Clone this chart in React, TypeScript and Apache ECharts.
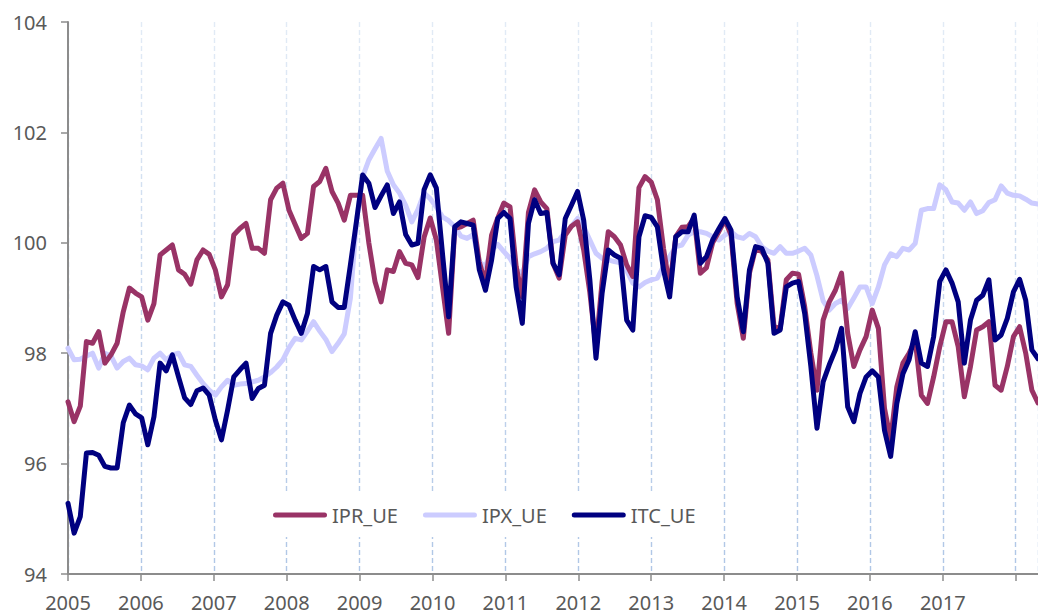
import React, { useEffect, useRef } from "react";
import * as echarts from "echarts";

const SERIES_NAMES = ["IPR_UE", "IPX_UE", "ITC_UE"];
const YEAR_START = 2005;
const Y_TICKS = [94, 96, 98, 100, 102, 104];

const IPR_UE = [
  97.12, 96.76, 97.04, 98.21, 98.18, 98.39, 97.82, 97.97, 98.18, 98.75, 99.18, 99.09,
  99.02, 98.6, 98.9, 99.78, 99.87, 99.96, 99.51, 99.43, 99.25, 99.69, 99.87, 99.79,
  99.51, 99.02, 99.24, 100.14, 100.26, 100.35, 99.9, 99.9, 99.81, 100.78, 100.99, 101.08,
  100.59, 100.33, 100.08, 100.17, 101.02, 101.11, 101.35, 100.93, 100.72, 100.41, 100.86, 100.86,
  100.86, 100.0, 99.3, 98.93, 99.51, 99.48, 99.84, 99.63, 99.6, 99.37, 100.1, 100.45,
  100.05, 99.2, 98.36, 100.26, 100.29, 100.35, 100.41, 99.65, 99.27, 100.14, 100.45, 100.72,
  100.65, 99.57, 99.02, 100.55, 100.96, 100.74, 100.62, 99.63, 99.36, 100.14, 100.3, 100.38,
  99.87, 99.1, 98.1, 99.3, 100.2, 100.11, 99.96, 99.6, 99.39, 101.0, 101.2, 101.1,
  100.78, 99.9, 99.2, 100.11, 100.28, 100.29, 100.45, 99.45, 99.55, 100.0, 100.2, 100.41,
  100.14, 98.9, 98.27, 99.45, 99.9, 99.84, 99.69, 98.48, 98.45, 99.33, 99.45, 99.43,
  98.84, 98.0, 97.33, 98.6, 98.93, 99.14, 99.45, 98.36, 97.76, 98.06, 98.3, 98.78,
  98.45, 97.0, 96.43, 97.39, 97.82, 98.0, 98.24, 97.24, 97.09, 97.57, 98.12, 98.57,
  98.57, 98.12, 97.21, 97.76, 98.42, 98.48, 98.57, 97.42, 97.33, 97.76, 98.3, 98.48,
  98.0, 97.33, 97.1,
];

const IPX_UE = [
  98.09, 97.88, 97.89, 97.95, 98.0, 97.73, 98.0, 97.95, 97.73, 97.85, 97.91, 97.79,
  97.77, 97.7, 97.91, 98.0, 97.88, 97.97, 98.0, 97.79, 97.76, 97.6, 97.45, 97.33,
  97.24, 97.39, 97.51, 97.42, 97.44, 97.45, 97.48, 97.51, 97.57, 97.65, 97.75, 97.88,
  98.1, 98.27, 98.24, 98.4, 98.57, 98.4, 98.25, 98.03, 98.18, 98.35, 99.0, 100.4,
  101.2, 101.5, 101.7, 101.89, 101.3, 101.05, 100.9, 100.68, 100.38, 100.6, 100.9, 100.8,
  100.65, 100.47, 100.4, 100.29, 100.12, 100.08, 100.15, 99.65, 99.57, 99.87, 99.97, 99.84,
  99.72, 99.51, 99.45, 99.75, 99.8, 99.84, 99.9, 100.02, 100.05, 100.2, 100.3, 100.44,
  100.29, 100.05, 99.81, 99.72, 99.69, 99.66, 99.64, 99.5, 99.27, 99.2, 99.28, 99.33,
  99.36, 99.57, 99.75, 99.93, 99.96, 100.14, 100.2, 100.2, 100.17, 100.11, 100.05, 100.14,
  100.2, 100.11, 100.08, 100.17, 100.11, 99.93, 99.85, 99.81, 99.93, 99.81, 99.81, 99.85,
  99.9, 99.78, 99.4, 98.95, 98.78, 98.9, 98.96, 98.81, 99.0, 99.2, 99.2, 98.9,
  99.2, 99.6, 99.8, 99.75, 99.9, 99.87, 99.99, 100.59, 100.62, 100.62, 101.05, 100.96,
  100.74, 100.72, 100.59, 100.74, 100.53, 100.58, 100.73, 100.78, 101.03, 100.9, 100.86, 100.85,
  100.79, 100.72, 100.7,
];

const ITC_UE = [
  95.28, 94.74, 95.04, 96.19, 96.2, 96.15, 95.95, 95.92, 95.92, 96.74, 97.06, 96.9,
  96.83, 96.34, 96.85, 97.82, 97.68, 97.97, 97.57, 97.19, 97.07, 97.32, 97.37, 97.24,
  96.79, 96.43, 96.97, 97.57, 97.7, 97.82, 97.18, 97.36, 97.42, 98.36, 98.69, 98.93,
  98.87, 98.6, 98.36, 98.72, 99.57, 99.51, 99.57, 98.93, 98.83, 98.83, 99.6, 100.4,
  101.23, 101.08, 100.64, 100.85, 101.05, 100.53, 100.74, 100.15, 99.96, 99.99, 100.96, 101.23,
  100.99, 99.8, 98.66, 100.29, 100.38, 100.35, 100.32, 99.51, 99.14, 99.69, 100.44, 100.55,
  100.44, 99.2, 98.54, 100.35, 100.78, 100.53, 100.55, 99.63, 99.42, 100.44, 100.68, 100.93,
  100.41, 99.33, 97.91, 99.09, 99.87, 99.78, 99.72, 98.6, 98.42, 100.11, 100.49, 100.46,
  100.29, 99.51, 99.02, 100.11, 100.2, 100.2, 100.5, 99.63, 99.75, 100.05, 100.25, 100.44,
  100.23, 99.02, 98.39, 99.51, 99.93, 99.9, 99.63, 98.36, 98.42, 99.2, 99.27, 99.3,
  98.72, 97.76, 96.64, 97.48, 97.79, 98.06, 98.45, 97.03, 96.76, 97.27, 97.57, 97.68,
  97.57, 96.6, 96.13, 97.09, 97.63, 97.88, 98.39, 97.82, 97.76, 98.3, 99.3, 99.51,
  99.27, 98.93, 97.82, 98.6, 98.96, 99.05, 99.33, 98.24, 98.33, 98.63, 99.11, 99.34,
  98.96, 98.06, 97.9,
];

const MONTHS = IPR_UE.map(
  (_, i) => `${YEAR_START + Math.floor(i / 12)}-${String((i % 12) + 1).padStart(2, "0")}`
);

const COLORS: Record<string, string> = {
  IPR_UE: "#993366",
  IPX_UE: "#CCCCFF",
  ITC_UE: "#000080",
};

const FONT = "'Noto Sans', 'DejaVu Sans', sans-serif";
const AXIS_GRAY = "#8C8C8C";
const TEXT_GRAY = "#595959";

export default function App() {
  const ref = useRef<HTMLDivElement>(null);

  useEffect(() => {
    if (!ref.current) return;
    const chart = echarts.init(ref.current, undefined, { renderer: "svg" });

    const gridGradient = new echarts.graphic.LinearGradient(
      0, 22, 0, 574,
      [
        { offset: 0, color: "#E2EBF6" },
        { offset: 1, color: "#AFC6E6" },
      ],
      true
    );

    const mkLine = (name: string, data: number[], z: number) => ({
      name,
      type: "line",
      xAxisIndex: 1,
      yAxisIndex: 0,
      data,
      symbol: "none",
      showSymbol: false,
      z,
      lineStyle: { color: COLORS[name], width: 5, cap: "round", join: "round" },
      itemStyle: { color: COLORS[name] },
      emphasis: { disabled: true },
    });

    const iconPath = "path://M2.5,0 L51.5,0 A2.5,2.5 0 0 1 51.5,5 L2.5,5 A2.5,2.5 0 0 1 2.5,0 Z";

    chart.setOption({
      animation: false,
      backgroundColor: "#ffffff",
      textStyle: { fontFamily: FONT },
      grid: { left: 68, top: 22, right: 0, bottom: 40, containLabel: false },
      legend: {
        data: SERIES_NAMES.map((n) => ({ name: n, icon: iconPath })),
        left: 262,
        top: 492,
        padding: [11, 10, 10, 11],
        backgroundColor: "#ffffff",
        itemWidth: 54,
        itemHeight: 5,
        itemGap: 25,
        selectedMode: false,
        textStyle: { color: TEXT_GRAY, fontSize: 20, fontFamily: FONT, lineHeight: 24 },
      },
      xAxis: [
        {
          type: "value",
          min: YEAR_START,
          max: YEAR_START + 970 / 72.9,
          interval: 1,
          position: "bottom",
          axisLine: { show: true, onZero: false, lineStyle: { color: AXIS_GRAY, width: 2 } },
          axisTick: { show: true, length: 7, lineStyle: { color: AXIS_GRAY, width: 1.5 } },
          axisLabel: {
            color: TEXT_GRAY,
            fontSize: 20,
            fontFamily: FONT,
            margin: 18,
            showMaxLabel: false,
            formatter: (v: number) => (v >= 2018 ? "" : String(Math.round(v))),
          },
          splitLine: {
            show: true,
            lineStyle: { color: gridGradient, width: 1.4, type: [5, 3] },
          },
        },
        {
          type: "category",
          data: MONTHS,
          boundaryGap: false,
          show: false,
        },
      ],
      yAxis: {
        type: "value",
        min: Y_TICKS[0],
        max: Y_TICKS[Y_TICKS.length - 1],
        interval: 2,
        axisLine: { show: true, lineStyle: { color: AXIS_GRAY, width: 2 } },
        axisTick: { show: true, length: 7, lineStyle: { color: AXIS_GRAY, width: 1.5 } },
        axisLabel: { color: TEXT_GRAY, fontSize: 20, fontFamily: FONT, margin: 21 },
        splitLine: { show: false },
      },
      series: [
        mkLine("IPX_UE", IPX_UE, 2),
        mkLine("IPR_UE", IPR_UE, 3),
        mkLine("ITC_UE", ITC_UE, 4),
      ],
    });

    return () => chart.dispose();
  }, []);

  return (
    <div
      ref={ref}
      style={{ position: "fixed", left: 0, top: 0, width: 1038, height: 614, background: "#fff" }}
    />
  );
}
